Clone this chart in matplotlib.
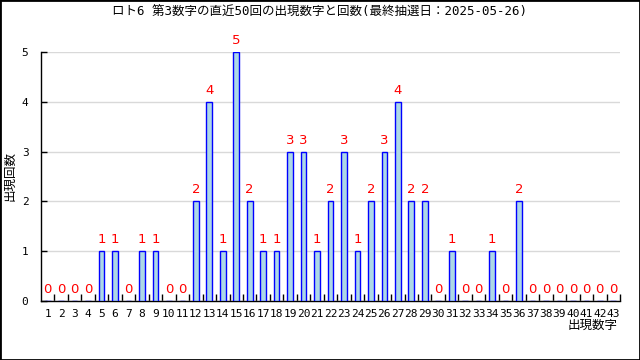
import matplotlib.pyplot as plt
from matplotlib.patches import Rectangle

plt.rcParams['font.family'] = ['Noto Sans CJK JP', 'DejaVu Sans']

# 出現数字 1..43
numbers = list(range(1, 44))
counts = [0, 0, 0, 0, 1, 1, 0, 1, 1, 0, 0, 2, 4, 1, 5, 2, 1, 1, 3, 3, 1,
          2, 3, 1, 2, 3, 4, 2, 2, 0, 1, 0, 0, 1, 0, 2, 0, 0, 0, 0, 0, 0, 0]

title = "ロト6 第3数字の直近50回の出現数字と回数(最終抽選日：2025-05-26)"

fig = plt.figure(figsize=(6.4, 3.6), dpi=100)
ax = fig.add_axes([41 / 640, 1 - 301 / 360, (620 - 41) / 640, (301 - 52) / 360])

x = [n - 1 for n in numbers]
ax.bar(x, counts, width=0.42, color="#add8e6", edgecolor="blue", linewidth=1, zorder=3)

for xi, c in zip(x, counts):
    ax.text(xi, c + 0.1, str(c), color="red", ha="center", va="bottom",
            fontsize=9.5, family="DejaVu Sans", clip_on=False, zorder=4)

ax.set_xlim(-0.5, len(numbers) - 0.5)
ax.set_ylim(0, 5)
ax.set_yticks(range(0, 6))
ax.yaxis.grid(True, color="#d9d9d9", linewidth=1, zorder=0)

ax.set_xticks([i - 0.5 for i in range(1, len(numbers) + 1)], minor=False)
ax.set_xticklabels([])
ax.set_xticks(x, minor=True)
ax.set_xticklabels([str(n) for n in numbers], minor=True, fontsize=8,
                   family="DejaVu Sans Mono")
ax.tick_params(axis="x", which="major", direction="in", length=5, width=1)
ax.tick_params(axis="x", which="minor", length=0, pad=6)
ax.tick_params(axis="y", direction="in", length=4, width=1, labelsize=8, pad=9)
for lab in ax.get_yticklabels():
    lab.set_family("DejaVu Sans Mono")

for s in ["top", "right"]:
    ax.spines[s].set_visible(False)
for s in ["left", "bottom"]:
    ax.spines[s].set_linewidth(1)

fig.text(0.5, 1 - 12 / 360, title, ha="center", va="center", fontsize=9,
         family=["DejaVu Sans Mono", "Noto Sans CJK JP"])
fig.text(10 / 640, 1 - 176 / 360, "出現回数", rotation=90, ha="center",
         va="center", fontsize=9)
fig.text(618 / 640, 1 - 325 / 360, "出現数字", ha="right", va="center", fontsize=9)

fig.add_artist(Rectangle((0, 0), 1, 1, transform=fig.transFigure, fill=False,
                         edgecolor="black", linewidth=2))

fig.savefig("out.png", dpi=100)
